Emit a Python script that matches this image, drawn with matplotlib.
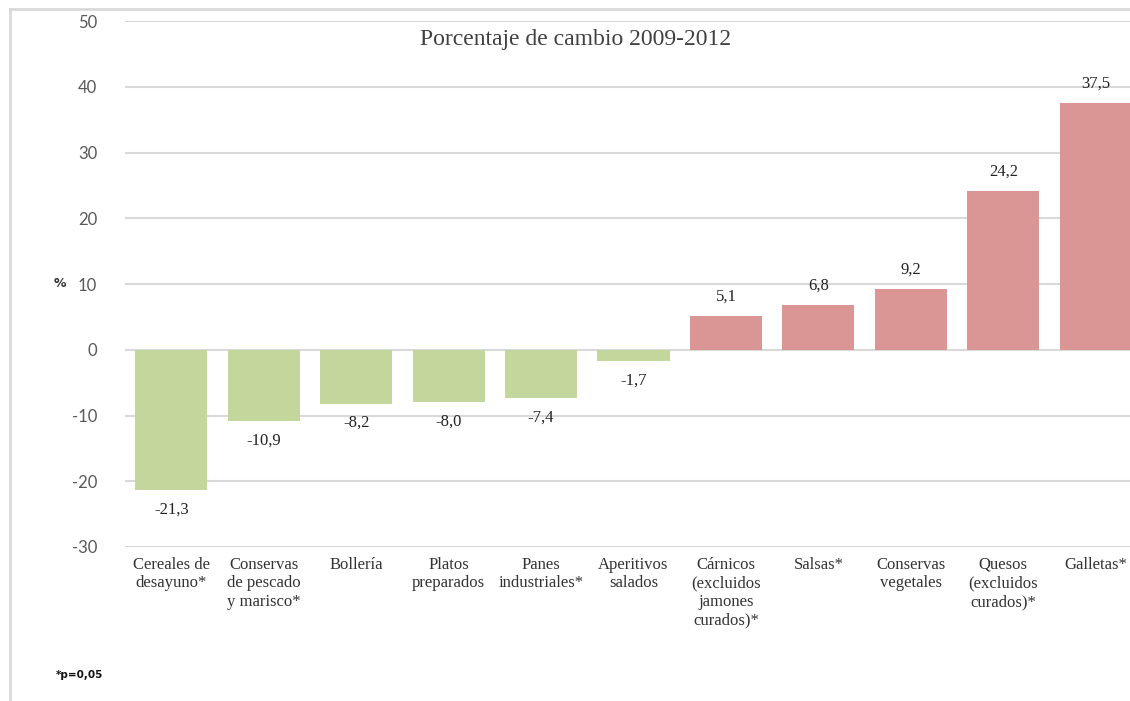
import matplotlib
matplotlib.use('Agg')
import matplotlib.pyplot as plt
from matplotlib.lines import Line2D
import numpy as np

categories = ['Cereales de\ndesayuno*', 'Conservas\nde pescado\ny marisco*', 'Bollería',
              'Platos\npreparados', 'Panes\nindustriales*', 'Aperitivos\nsalados',
              'Cárnicos\n(excluidos\njamones\ncurados)*', 'Salsas*', 'Conservas\nvegetales',
              'Quesos\n(excluidos\ncurados)*', 'Galletas*']
values = [-21.3, -10.9, -8.2, -8.0, -7.4, -1.7, 5.1, 6.8, 9.2, 24.2, 37.5]
y_ticks = [-30, -20, -10, 0, 10, 20, 30, 40, 50]

GREEN = '#C3D69B'
PINK = '#D99694'
GRID = '#D9D9D9'

fig = plt.figure(figsize=(11.30, 7.01), dpi=100)
# eje un poco más ancho que la figura: la última barra queda recortada
ax = fig.add_axes([0.1106, 0.2197, 0.900, 0.7503])

x = np.arange(len(values))
colors = [GREEN if v < 0 else PINK for v in values]
ax.bar(x, values, width=0.78, color=colors, zorder=2)

ax.set_xlim(-0.5, len(values) - 0.5)
ax.set_ylim(-30, 50)
ax.set_yticks(y_ticks)
ax.set_yticklabels([str(t) for t in y_ticks], family='Lato', fontsize=12, color='#595959')
ax.tick_params(axis='y', length=0, pad=20)
ax.tick_params(axis='x', length=0, pad=7)
ax.set_xticks(x)
ax.set_xticklabels(categories, family='Liberation Serif', fontsize=12, color='#333333',
                   linespacing=1.22, va='top')
for s in ax.spines.values():
    s.set_visible(False)
ax.yaxis.grid(True, color=GRID, linewidth=1.5, zorder=0)
ax.set_axisbelow(True)

for xi, v in zip(x, values):
    txt = f'{v:.1f}'.replace('.', ',')
    off = 14 if v >= 0 else -14
    ax.annotate(txt, (xi, v), xytext=(0, off), textcoords='offset points',
                ha='center', va='center', family='Liberation Serif', fontsize=12,
                color='#222222')

fig.text(0.509, 0.943, 'Porcentaje de cambio 2009-2012', ha='center', va='center',
         family='Liberation Serif', fontsize=17, color='#404040')
fig.text(0.053, 0.595, '%', ha='center', va='center', family='DejaVu Sans',
         fontsize=9, fontweight='bold', color='#333333')
fig.text(0.049, 0.037, '*p=0,05', ha='left', va='center', family='DejaVu Sans',
         fontsize=7.5, fontweight='bold', color='#111111')

# marco gris del gráfico
fig.add_artist(Line2D([0.009, 0.009], [0.0, 0.987], color=GRID, linewidth=2,
                      transform=fig.transFigure))
fig.add_artist(Line2D([0.009, 1.0], [0.987, 0.987], color=GRID, linewidth=2,
                      transform=fig.transFigure))

fig.savefig('out.png', dpi=100)
